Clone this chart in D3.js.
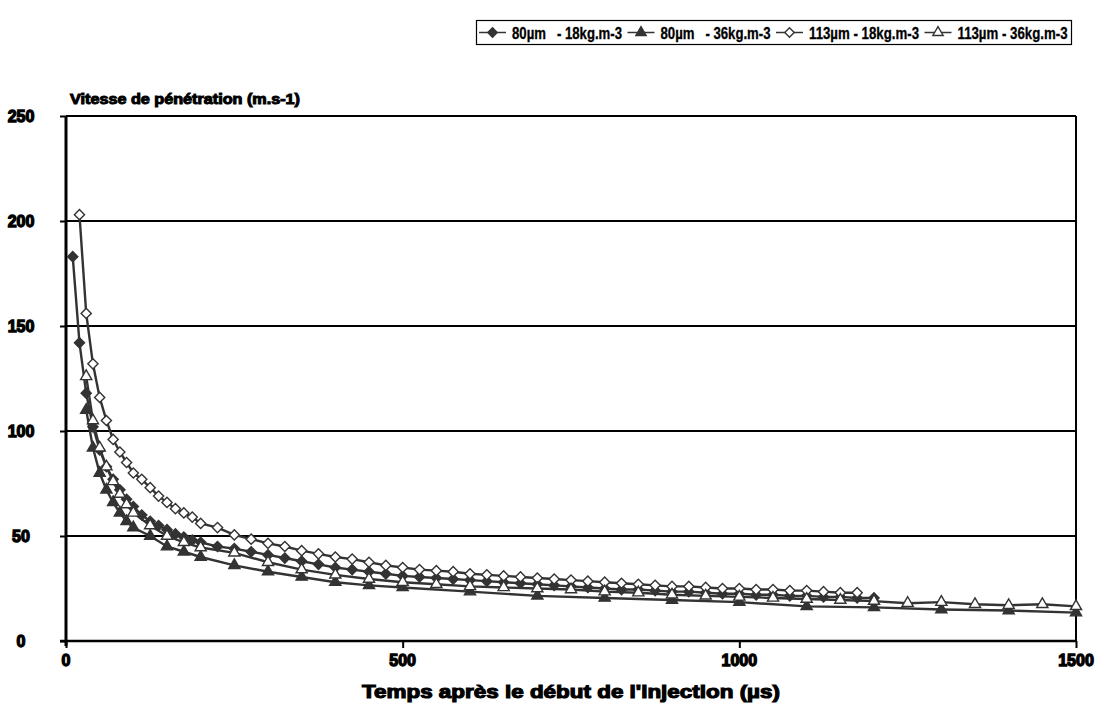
<!DOCTYPE html>
<html><head><meta charset="utf-8">
<script src="https://cdn.jsdelivr.net/npm/d3@7"></script>
<style>body{margin:0;background:#fff} svg{display:block}</style>
</head><body><svg id="c" width="1109" height="727"></svg>
<script>
// ---- data ----
const seriesNames = ["80µm   - 18kg.m-3", "80µm   - 36kg.m-3", "113µm - 18kg.m-3", "113µm - 36kg.m-3"];
const seriesKinds = ["diamondFilled", "triangleFilled", "diamondOpen", "triangleOpen"];

const tA = [10,20,30,40,50,60,70,80,90,100,112.5,125,137.5,150,162.5,175,187.5,200,225,250,275,300,325,350,375,400,425,450,475,500,525,550,575,600,625,650,675,700,725,750,775,800,825,850,875,900,925,950,975,1000,1025,1050,1075,1100,1125,1150,1175,1200];
const vA = [183,142,118,102,91,83,77,72,67.5,64,60,57,55,53,51,49.5,48,47,45,44,42.5,41,39.5,38,36.5,35,34,33,32,31,30.5,30,29.5,29,28.5,28,27.5,27,26.5,26,25.5,25,24.5,24.5,24,23.5,23.5,23,22.5,22.5,22,22,21.5,21.5,21,21,20.5,20.5];

const tB = [30,40,50,60,70,80,90,100,125,150,175,200,250,300,350,400,450,500,600,700,800,900,1000,1100,1200,1300,1400,1500];
const vB = [110,92,80,72,66,61,57,54,50,45,42.5,40,36,33,30.5,28,26.5,25.5,23.5,21.5,20.5,19.5,18.5,16.5,16,15,14.5,13.5];

const tC = [20,30,40,50,60,70,80,90,100,112.5,125,137.5,150,162.5,175,187.5,200,225,250,275,300,325,350,375,400,425,450,475,500,525,550,575,600,625,650,675,700,725,750,775,800,825,850,875,900,925,950,975,1000,1025,1050,1075,1100,1125,1150,1175];
const vC = [203,156,132,116,105,96,90,85,80,77,73,69,66,63,61,59,56,54,50.5,48.5,46.5,45,43,41.5,40,39,37.5,36,35,34,33.5,33,32,31.5,31,30.5,30,29.5,29,28.5,28,27.5,27,26.5,26,26,25.5,25,25,24.5,24.5,24,24,23.5,23,23];

const tD = [30,40,50,60,70,80,90,100,125,150,175,200,250,300,350,400,450,500,550,600,650,700,750,800,850,900,950,1000,1050,1100,1150,1200,1250,1300,1350,1400,1450,1500];
const vD = [126,105,92,83,76,70,65,61,55,50,47,44.5,42,37.5,34,31.5,29.5,28,27,26,25.5,25,24.5,23.5,23,22,21.5,21,20.5,20,19.5,19,18,18.5,17.5,17,17.5,16.5];

const xTicks = [0, 500, 1000, 1500];
const yTicks = [0, 50, 100, 150, 200, 250];
const yTitle = "Vitesse de pénétration (m.s-1)";
const xTitle = "Temps après le début de l'injection (µs)";

// ---- chart ----
const svg = d3.select("#c");
const M = {l: 66, r: 1076, t: 116, b: 641};
const x = d3.scaleLinear().domain([0, 1500]).range([M.l, M.r]);
const y = d3.scaleLinear().domain([0, 250]).range([M.b, M.t]);
const ink = "#000";
const dark = "#333";
const boldFont = "'Liberation Sans', Arial, sans-serif";

// gridlines
svg.append("g").selectAll("line").data(yTicks.filter(d => d > 0)).join("line")
  .attr("x1", M.l).attr("x2", M.r).attr("y1", d => y(d)).attr("y2", d => y(d))
  .attr("stroke", ink).attr("stroke-width", 2);
// right border
svg.append("line").attr("x1", M.r).attr("x2", M.r).attr("y1", M.t).attr("y2", M.b)
  .attr("stroke", ink).attr("stroke-width", 2);

// axes
const xAxis = svg.append("g").attr("transform", `translate(0,${M.b})`)
  .call(d3.axisBottom(x).tickValues(xTicks).tickSize(7).tickFormat(""));
xAxis.select(".domain").attr("stroke", ink).attr("stroke-width", 2.5).attr("d", `M${M.l-6},0H${M.r}`);
xAxis.selectAll(".tick line").attr("stroke", ink).attr("stroke-width", 2);

const yAxis = svg.append("g").attr("transform", `translate(${M.l},0)`)
  .call(d3.axisLeft(y).tickValues(yTicks).tickSize(6).tickFormat(""));
yAxis.select(".domain").attr("stroke", ink).attr("stroke-width", 3).attr("d", `M0,${M.t}V${M.b + 5}`);
yAxis.selectAll(".tick line").attr("stroke", ink).attr("stroke-width", 2);

// tick labels
svg.append("g").selectAll("text").data(yTicks).join("text")
  .attr("x", 21).attr("y", d => y(d)).attr("dy", "0.36em").attr("text-anchor", "middle")
  .attr("font-family", boldFont).attr("font-weight", "bold").attr("font-size", 16)
  .attr("stroke", ink).attr("stroke-width", 1.3).text(d => d);
svg.append("g").selectAll("text").data(xTicks).join("text")
  .attr("x", d => x(d)).attr("y", 666).attr("text-anchor", "middle")
  .attr("font-family", boldFont).attr("font-weight", "bold").attr("font-size", 16)
  .attr("stroke", ink).attr("stroke-width", 1.3).text(d => d);

// titles
svg.append("text").attr("x", 70).attr("y", 104)
  .attr("font-family", boldFont).attr("font-weight", "bold").attr("font-size", 14)
  .attr("stroke", ink).attr("stroke-width", 1).attr("textLength", 230).attr("lengthAdjust", "spacingAndGlyphs")
  .text(yTitle);
svg.append("text").attr("x", 571).attr("y", 698).attr("text-anchor", "middle")
  .attr("font-family", boldFont).attr("font-weight", "bold").attr("font-size", 18)
  .attr("stroke", ink).attr("stroke-width", 1.1).attr("textLength", 418).attr("lengthAdjust", "spacingAndGlyphs")
  .text(xTitle);

// series
function markerPath(kind, scale) {
  const s = scale || 1;
  if (kind.startsWith("diamond")) return d3.symbol().type(d3.symbolDiamond2 ? d3.symbolDiamond2 : d3.symbolDiamond).size(66 * s)();
  return d3.symbol().type(d3.symbolTriangle).size(54 * s)();
}
function styleMarker(sel, kind) {
  const filled = kind.endsWith("Filled");
  sel.attr("fill", filled ? dark : "#fff").attr("stroke", dark).attr("stroke-width", 1.4);
}
const tSets = [tA, tB, tC, tD];
const vSets = [vA, vB, vC, vD];
const line = d3.line().x(d => x(d[0])).y(d => y(d[1]));
seriesNames.forEach((name, i) => {
  const pts = tSets[i].map((t, j) => [t, vSets[i][j]]);
  const g = svg.append("g");
  g.append("path").datum(pts).attr("d", line).attr("fill", "none")
    .attr("stroke", dark).attr("stroke-width", 2.4);
  g.selectAll("path.m").data(pts).join("path").attr("class", "m")
    .attr("transform", d => `translate(${x(d[0])},${y(d[1])})`)
    .attr("d", markerPath(seriesKinds[i]))
    .call(styleMarker, seriesKinds[i]);
});

// legend
const lg = svg.append("g");
lg.append("rect").attr("x", 476.5).attr("y", 20.5).attr("width", 595).attr("height", 24)
  .attr("fill", "#fff").attr("stroke", ink).attr("stroke-width", 1.2);
const entryW = 148.5;
seriesNames.forEach((name, i) => {
  const g = lg.append("g").attr("transform", `translate(${479 + i * entryW},32.5)`);
  g.append("line").attr("x1", 0).attr("x2", 27).attr("stroke", dark).attr("stroke-width", 1.5);
  g.append("path").attr("transform", "translate(13.5,0)").attr("d", markerPath(seriesKinds[i], 0.85))
    .call(styleMarker, seriesKinds[i]);
  g.append("text").attr("x", 33).attr("dy", "0.38em")
    .attr("font-family", boldFont).attr("font-weight", "bold").attr("font-size", 16)
    .attr("stroke", ink).attr("stroke-width", 0.3)
    .attr("textLength", 110).attr("lengthAdjust", "spacingAndGlyphs")
    .style("white-space", "pre").text(name);
});
</script>
</body></html>
